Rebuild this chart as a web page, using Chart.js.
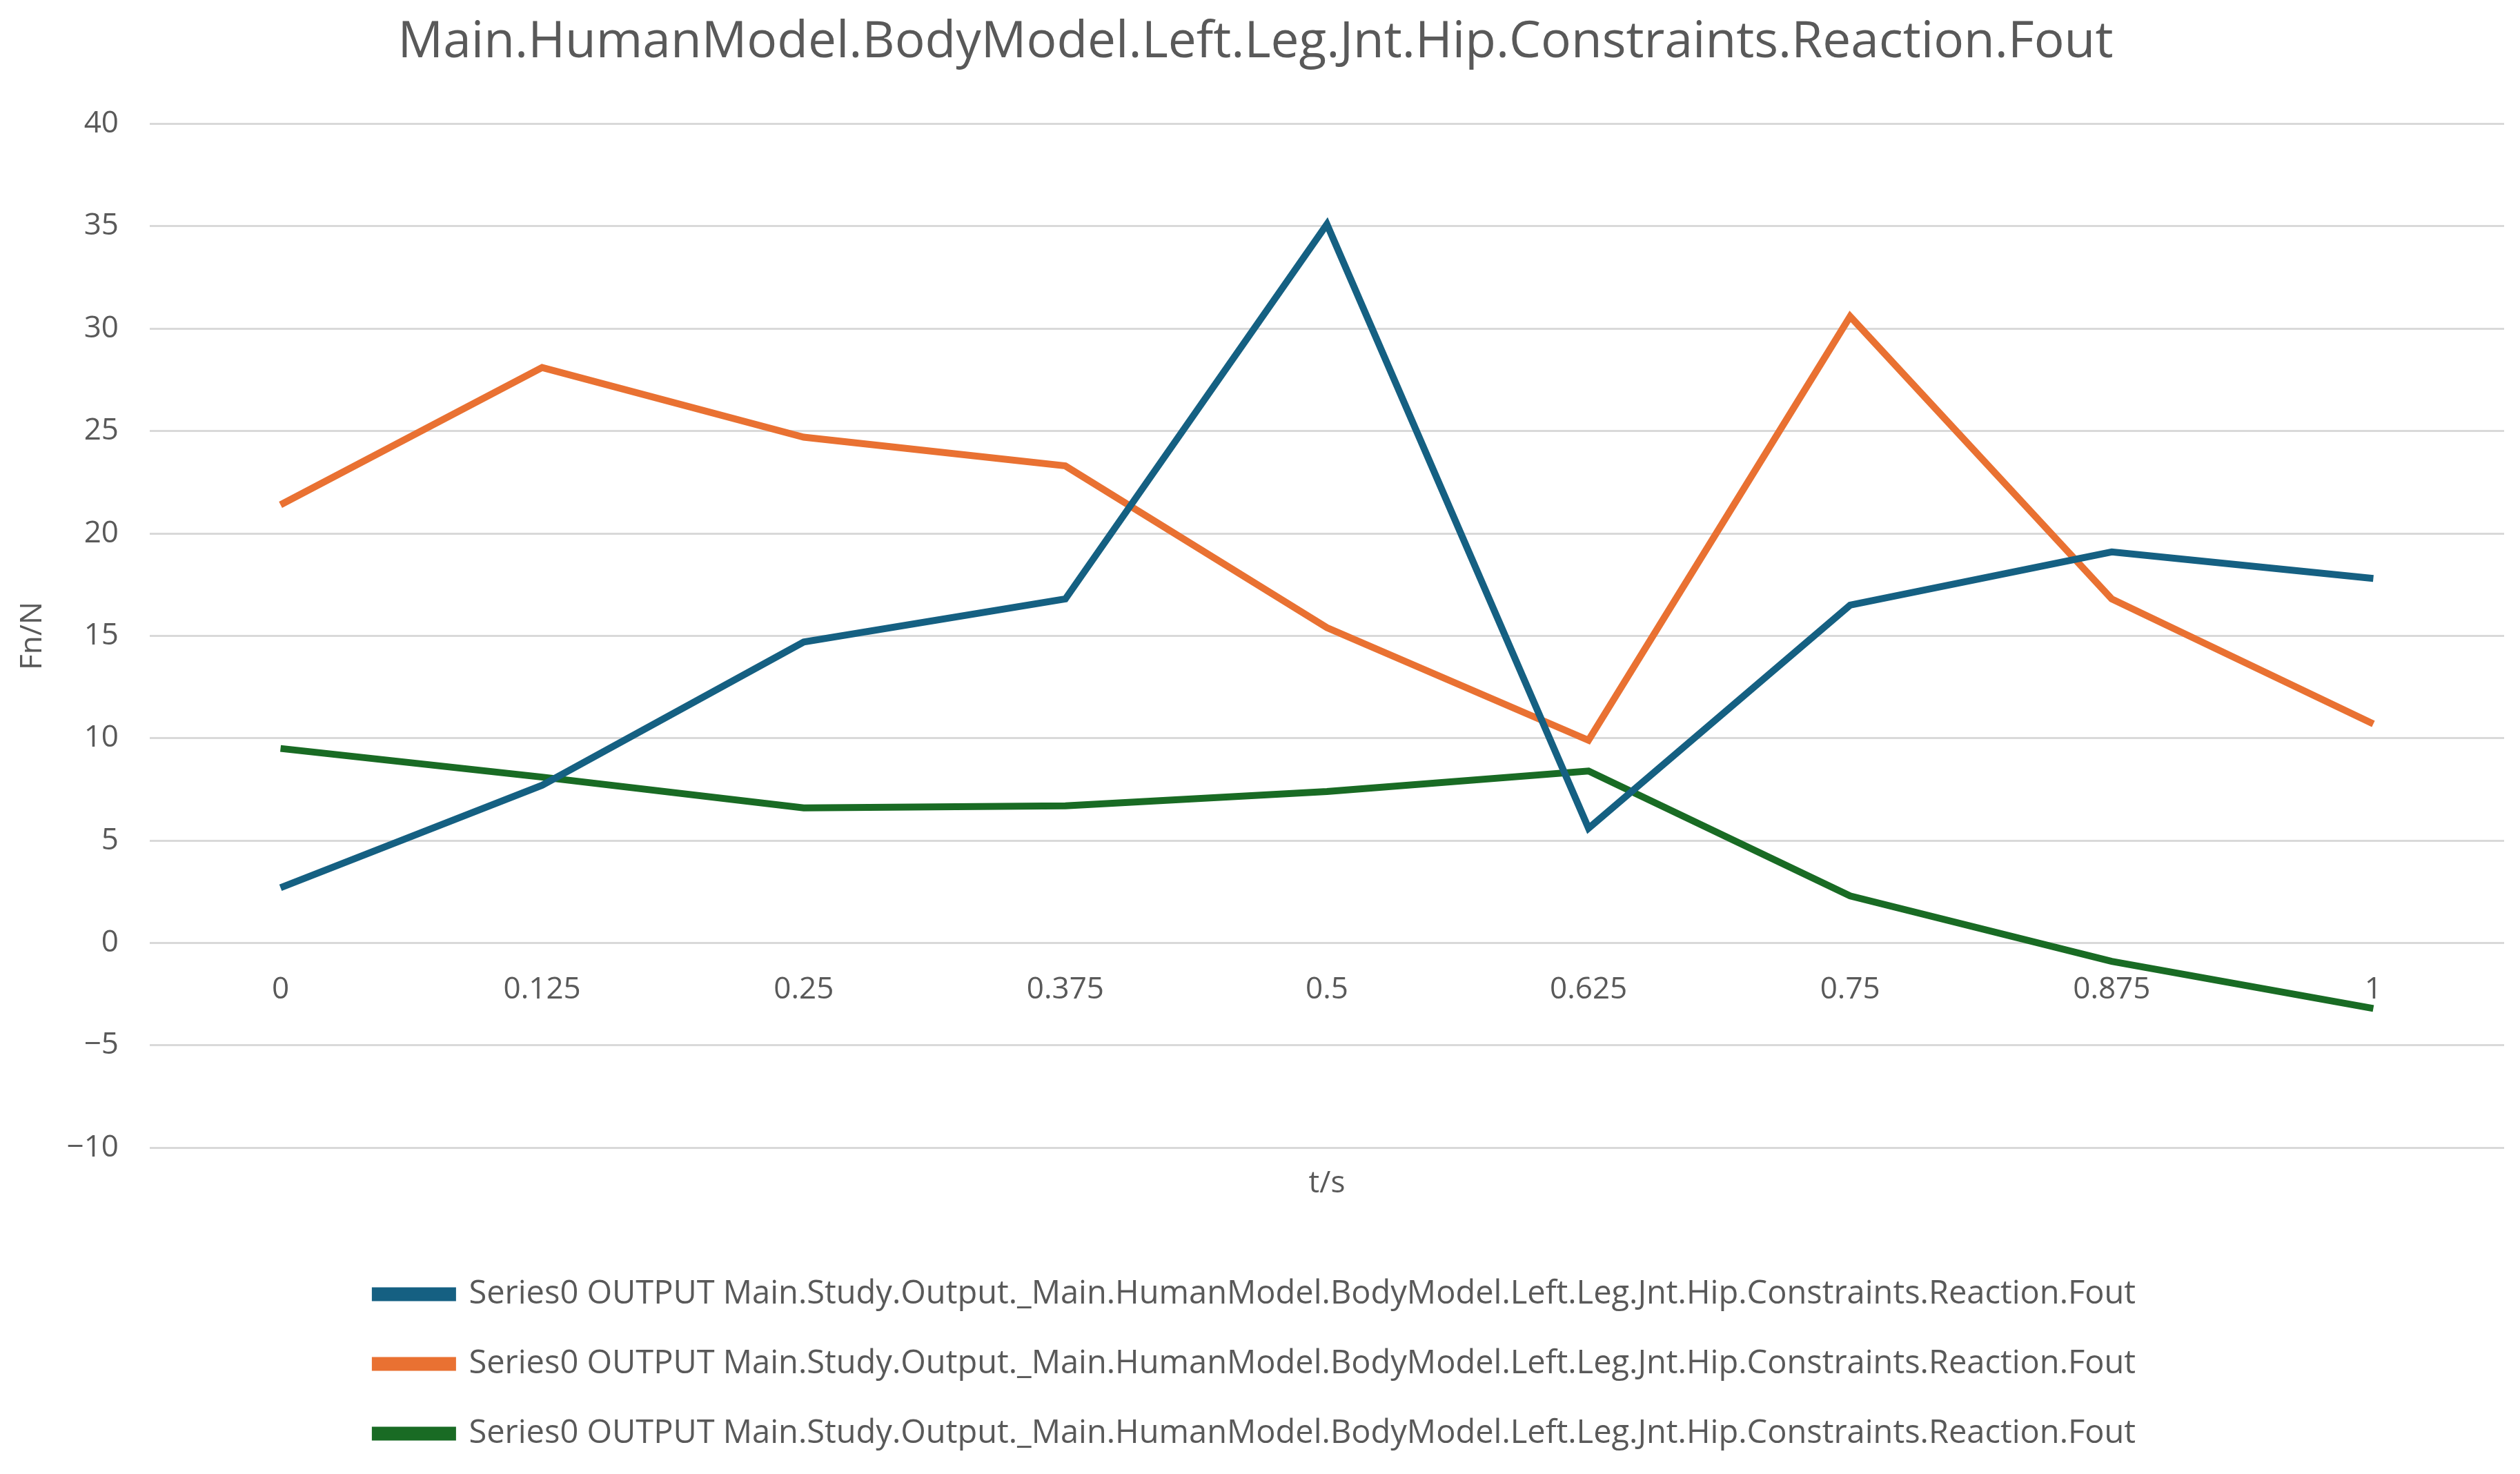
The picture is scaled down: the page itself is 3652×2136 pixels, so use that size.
<!DOCTYPE html>
<html>
<head>
<meta charset="utf-8">
<script src="https://cdn.jsdelivr.net/npm/chart.js@4.4.1/dist/chart.umd.min.js"></script>
<style>
  html, body { margin: 0; padding: 0; background: #fff; }
  #wrap { width: 3652px; height: 2136px; }
</style>
</head>
<body>
<div id="wrap"><canvas id="myChart"></canvas></div>
<script>
const timeLabels = ['0', '0.125', '0.25', '0.375', '0.5', '0.625', '0.75', '0.875', '1'];
const blueValues = [2.7, 7.7, 14.7, 16.8, 35.1, 5.6, 16.5, 19.1, 17.8];
const orangeValues = [21.4, 28.1, 24.7, 23.3, 15.4, 9.9, 30.6, 16.8, 10.7];
const greenValues = [9.5, 8.1, 6.6, 6.7, 7.4, 8.4, 2.3, -0.9, -3.2];
const seriesName = 'Series0 OUTPUT Main.Study.Output._Main.HumanModel.BodyModel.Left.Leg.Jnt.Hip.Constraints.Reaction.Fout';
const chartTitle = 'Main.HumanModel.BodyModel.Left.Leg.Jnt.Hip.Constraints.Reaction.Fout';

const fontFamily = '"Open Sans", "Liberation Sans", sans-serif';
const textGray = '#595959';

function line(label, values, color) {
    return {
        label: label,
        data: values,
        borderColor: color,
        backgroundColor: color,
        borderWidth: 10,
        pointRadius: 0,
        tension: 0,
        xAxisID: 'x'
    };
}

const ctx = document.getElementById('myChart');
const myChart = new Chart(ctx, {
    type: 'line',
    data: {
        labels: timeLabels,
        datasets: [
            line(seriesName, blueValues, '#156082'),
            line(seriesName, orangeValues, '#E97132'),
            line(seriesName, greenValues, '#196B24')
        ]
    },
    options: {
        responsive: true,
        maintainAspectRatio: false,
        animation: false,
        layout: {
            padding: { left: 10, right: 23, top: 10, bottom: 25 }
        },
        plugins: {
            title: {
                display: true,
                text: chartTitle,
                color: textGray,
                font: { family: fontFamily, size: 73, weight: 'normal' },
                padding: { top: 8, bottom: 74 }
            },
            legend: {
                position: 'bottom',
                align: 'center',
                labels: {
                    color: textGray,
                    font: { family: fontFamily, size: 47 },
                    boxWidth: 112,
                    boxHeight: 10,
                    padding: 54
                }
            },
            tooltip: { enabled: false }
        },
        scales: {
            x: {
                type: 'category',
                offset: true,
                position: { y: 0 },
                grid: { display: false },
                border: { display: false },
                ticks: {
                    color: textGray,
                    font: { family: fontFamily, size: 44 },
                    padding: 34,
                    maxRotation: 0,
                    autoSkip: false
                }
            },
            x2: {
                type: 'category',
                offset: true,
                position: 'bottom',
                grid: { display: false },
                border: { display: false },
                ticks: { display: false },
                title: {
                    display: true,
                    text: 't/s',
                    color: textGray,
                    font: { family: fontFamily, size: 44 },
                    padding: { top: 18, bottom: 56 }
                }
            },
            y: {
                min: -10,
                max: 40,
                afterFit: scale => { scale.width = 207; },
                grid: { color: '#D9D9D9', lineWidth: 3, drawTicks: false },
                border: { display: false },
                ticks: {
                    stepSize: 5,
                    color: textGray,
                    font: { family: fontFamily, size: 44 },
                    padding: 45,
                    callback: v => v < 0 ? '\u2212' + Math.abs(v) : String(v)
                },
                title: {
                    display: true,
                    text: 'Fn/N',
                    color: textGray,
                    font: { family: fontFamily, size: 44 },
                    padding: { top: 11, bottom: 0 }
                }
            }
        }
    }
});
</script>
</body>
</html>
